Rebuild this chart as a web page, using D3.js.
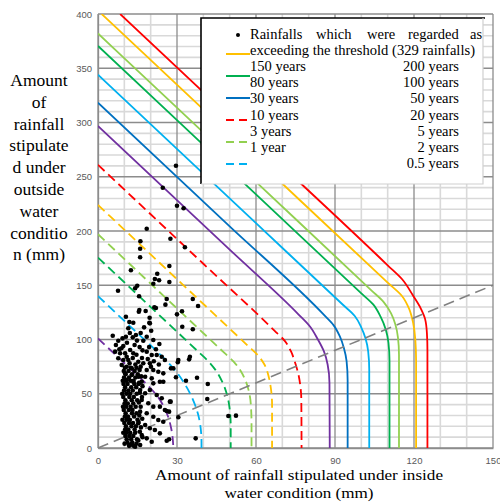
<!DOCTYPE html>
<html>
<head>
<meta charset="utf-8">
<script src="https://cdn.jsdelivr.net/npm/d3@7"></script>
<style>
body { margin: 0; background: #fff; }
</style>
</head>
<body>
<div id="chart"></div>
<script>
// tick values
var xTicks = [0, 30, 60, 90, 120, 150];
var yTicks = [0, 50, 100, 150, 200, 250, 300, 350, 400];

// threshold curves [inside, outside] in mm
var c200 = [[8.4,400],[60,282.4],[110,168.4],[115.5,155.5],[119.5,141],[122.5,129],[124.2,119],[124.9,106],[125.1,90],[125.1,0]];
var c150 = [[1.4,400],[60,266.4],[110,152.4],[115.5,139.9],[118.2,128],[119.7,115],[120.5,100],[120.8,80],[120.8,0]];
var c100 = [[0,382],[60,245.2],[104,144.9],[108.5,134.5],[111.3,124],[112.9,114],[113.9,102],[114.3,86],[114.3,0]];
var c80 = [[0,370.5],[60,233.7],[100,142.5],[104.5,132.3],[107.3,121],[109.3,109],[110.3,97],[110.7,80],[110.7,0]];
var c50 = [[0,344],[60,207.2],[93,132],[97.5,121.7],[100,111],[101.6,101],[102.6,89],[103,72],[103,0]];
var c30 = [[0,318.3],[50,204.3],[86,122.2],[89.5,113],[91.8,103],[93.4,92],[94.4,80],[94.8,62],[94.8,0]];
var c20 = [[0,296.8],[50,182.8],[76,123.5],[80.5,112],[83.5,100],[85.8,89],[87.2,77],[87.9,60],[88,0]];
var c10 = [[0,261],[40,169.8],[67,108.2],[71,98.5],[73.3,89],[74.8,79],[75.9,70],[76.8,58],[77.2,45],[77.3,0]];
var c5 = [[0,224],[30,155.6],[57,94],[60.5,86],[63.2,77],[64.8,66],[65.7,54],[66.1,40],[66.1,0]];
var c3 = [[0,197],[25,140],[48,87.6],[51.5,79.6],[54.2,71],[56.2,61],[57.5,50],[58.1,38],[58.3,22],[58.3,0]];
var c2 = [[0,175.5],[20,129.9],[38,88.9],[41.5,80.9],[44.6,72],[47.2,61],[49,49],[50,36],[50.4,20],[50.4,0]];
var c1 = [[0,140],[12,112.6],[23,87.6],[26.5,79.2],[30,69.5],[33.2,58],[35.8,46],[37.9,32],[39,18],[39.3,5],[39.3,0]];
var c05 = [[0,101],[8,82.8],[16,64.6],[19.5,56.2],[22.5,48],[24.8,39],[26.6,29],[27.8,18],[28.4,8],[28.6,0]];

var curveData = [c200, c150, c100, c80, c50, c30, c20, c10, c5, c3, c2, c1, c05];
var curveColors = ["#ff0000", "#ffc000", "#92d050", "#00b050", "#00b0f0", "#0070c0", "#7030a0",
                   "#ff0000", "#ffc000", "#92d050", "#00b050", "#00b0f0", "#7030a0"];
var curveDashed = [false, false, false, false, false, false, false, true, true, true, true, true, true];

// rainfalls regarded as exceeding the threshold
var rainfalls = [
  [29.6,260.2],[24.6,239.9],[30,223.3],[32.5,220.9],[18.5,202.1],[27.5,192.9],[33,185],[16.1,190.5],
  [16,183.7],[16,175.8],[27.1,167.7],[12.5,163.8],[22.5,160.6],[21.6,155.8],[23.2,154.6],[21,151.4],
  [27.1,153],[14.9,149.6],[14.1,147.2],[7.6,145],[15.6,139.8],[26.1,137.3],[25.6,132.1],[36,137.3],
  [38,130.9],[21.4,129.7],[22,129],[15.7,127.2],[15.5,125.6],[18.1,126.3],[31.9,126],[30,123.2],
  [19.6,120.1],[10.6,121],[11.9,116.1],[13.4,115.5],[19.5,115.5],
  [32,111.8],[36,109.4],[34.9,84.1],[34.6,81.7],[30.5,81.1],[30.3,79],[27.7,73.4],[28.6,73.4],
  [29.6,65.2],[33.4,62],[37.6,64.8],[41.7,59],[41.5,45.2],[27.6,42.7],[26.1,34.1],[27,33.5],
  [30.5,28.3],[49.5,29.5],[52.4,29.8],[37.1,8.9],[27,8],[26.1,6.7],
  [19.7,114.9],[11.5,110.3],[17.5,111.2],[5.6,103.5],[14.4,104.1],[13.2,102],[7.7,98.9],[10.6,102.6],
  [18.5,102.6],[17.2,98.9],[21,99.5],[23.3,95.9],[9.6,94],[12.2,90.3],[6.5,88.8],[8.4,87.3],
  [10.3,87.3],[13.4,87.3],[18.5,88.8],[20.4,85.7],[22.3,85.7],[24.2,84.1],[25.4,81.1],[7.7,82.7],
  [9.6,81.1],[11.5,81.1],[15.3,79.5],[17.2,78.1],[19.7,78.1],[9,76.5],[10.9,74.9],[12.8,73.4],
  [18.5,71.9],[21,71.9],[22.9,70.3],[24.8,68.8],[10.3,68.8],[12.8,67.3],[15.3,65.7],[17.9,65.7],
  [20.4,64.2],[10.9,62.7],[13.4,61.1],[24.8,61.1],
  [16.6,61.1],[21,59.6],[23.5,61.1],[16,53.5],[17.9,50.4],[19.7,53.5],[22.3,48.8],[24.2,45.8],
  [27.3,42.7],[16.6,44.2],[19.1,41.2],[21,38.1],[23.5,38.1],[25.4,35],[16,33.5],[18.5,32],
  [21,28.8],[22.9,25.8],[24.8,24.2],[15.3,22.8],[17.9,21.2],[19.7,18.2],[21.6,16.6],[23.5,13.5],
  [16.6,12],[18.5,8.9],[20.4,5.8],[16,2.8],[14.1,1.2],[12.2,2.8],
  [10.2,74],[12.5,74],[14.6,74],[9.8,71],[11.6,71],[13.9,71],[10.5,68],[12.9,68],[15.1,68],
  [9.9,65],[11.8,65],[14.2,65],[10.6,62],[12.3,62],[13.5,62],[9.7,59],[11.2,59],[13.8,59],[15.4,59],
  [10.3,56],[12.6,56],[14.5,56],[9.9,53],[11.5,53],[13.2,53],[10.8,50],[12.2,50],[14.7,50],
  [9.6,47],[11.9,47],[13.6,47],[10.4,44],[12.8,44],[14.9,44],[10.1,41],[11.3,41],[13.4,41],
  [10.7,38],[12.4,38],[14.3,38],[9.8,35],[11.7,35],[13.1,35],[10.5,32],[12.9,32],[14.6,32],
  [10.2,29],[11.4,29],[13.7,29],[10.9,26],[12.1,26],[15,26],[10,23],[11.8,23],[13.3,23],
  [10.6,20],[12.7,20],[14.4,20],[10.3,17],[11.5,17],[13.9,17],[10.8,14],[12.2,14],[14.1,14],
  [10.4,11],[11.9,11],[13.4,11],[10.9,8],[12.6,8],[14.8,8],[11.2,5],[13,5],[11.8,2],[13.6,2],
  [15.8,72],[16.4,66],[15.6,60],[16.9,57],[15.9,51],[16.7,47],[15.5,42],[16.2,38],[15.7,30],
  [16.8,27],[15.4,24],[16.3,19],[15.9,15],[16.9,10],[15.3,7],[14.6,4],
  [6.8,95],[8.9,92],[11,97],[13.9,95],[15.8,93],[16.9,90],[19.4,93],[22,91],[14.8,99],[12.1,106],
  [9.3,101],[16.2,106],[20.2,108],[8.1,91],[10.9,84],[13.2,83],[14.6,86],[16.7,83],[18.9,82],
  [21.2,80],[23.1,77],[12,78],[14.2,77],[16.2,75],[20.1,75],
  [9.4,62],[9.2,50],[9.5,38],[9.3,26],[9.6,14],[10.1,4]
];

// legend and titles
var legendFirstRow = ["Rainfalls", "which", "were", "regarded", "as"];
var legendSecondRow = "exceeding the threshold (329 rainfalls)";
var legendLeft = ["150 years", "80 years", "30 years", "10 years", "3 years", "1 year"];
var legendRight = ["200 years", "100 years", "50 years", "20 years", "5 years", "2 years", "0.5 years"];
var swatchColors = ["#ffc000", "#00b050", "#0070c0", "#ff0000", "#92d050", "#00b0f0"];
var swatchDashed = [false, false, false, true, true, true];
var yTitle = ["Amount", "of", "rainfall", "stipulate", "d under", "outside", "water", "conditio", "n (mm)"];
var xTitle = ["Amount of rainfall stipulated under inside", "water condition (mm)"];
var xTitleWidth = [288, 149];

var width = 500, height = 502;
var plot = { left: 98, right: 493, top: 14, bottom: 448 };

var svg = d3.select("#chart")
    .append("svg")
    .attr("width", width)
    .attr("height", height);

var x = d3.scaleLinear().domain([0, 150]).range([plot.left, plot.right]);
var y = d3.scaleLinear().domain([0, 400]).range([plot.bottom, plot.top]);

svg.append("clipPath").attr("id", "clip")
    .append("rect")
    .attr("x", plot.left).attr("y", plot.top)
    .attr("width", plot.right - plot.left).attr("height", plot.bottom - plot.top);

// minor grid every 10 mm
var grid = svg.append("g");
grid.selectAll("line.vminor")
    .data(d3.range(10, 151, 10).filter(d => d % 30 != 0))
    .enter().append("line")
    .attr("x1", d => x(d)).attr("x2", d => x(d))
    .attr("y1", plot.top).attr("y2", plot.bottom)
    .style("stroke", "#d9d9d9").style("stroke-width", 1.6);
grid.selectAll("line.hminor")
    .data(d3.range(10, 401, 10).filter(d => d % 50 != 0))
    .enter().append("line")
    .attr("y1", d => y(d)).attr("y2", d => y(d))
    .attr("x1", plot.left).attr("x2", plot.right)
    .style("stroke", "#d9d9d9").style("stroke-width", 1.6);

// major grid
grid.selectAll("line.vmajor")
    .data(xTicks)
    .enter().append("line")
    .attr("x1", d => x(d)).attr("x2", d => x(d))
    .attr("y1", plot.top).attr("y2", plot.bottom)
    .style("stroke", "#8c8c8c").style("stroke-width", 1.3);
grid.selectAll("line.hmajor")
    .data(yTicks)
    .enter().append("line")
    .attr("y1", d => y(d)).attr("y2", d => y(d))
    .attr("x1", plot.left).attr("x2", plot.right)
    .style("stroke", "#8c8c8c").style("stroke-width", 1.3);

// axes (labels only)
svg.append("g")
    .attr("transform", "translate(0," + plot.bottom + ")")
    .call(d3.axisBottom(x).tickValues(xTicks).tickSize(0).tickPadding(9));
svg.append("g")
    .attr("transform", "translate(" + plot.left + ",0)")
    .call(d3.axisLeft(y).tickValues(yTicks).tickSize(0).tickPadding(6));
svg.selectAll(".domain").style("stroke", "#8c8c8c").style("stroke-width", 1.3);
svg.selectAll(".tick text")
    .style("font-family", "Liberation Sans, Arial, sans-serif")
    .style("font-size", "9.5px")
    .style("fill", "#595959");

// threshold curves
var line = d3.line()
    .x(d => x(d[0]))
    .y(d => y(d[1]))
    .curve(d3.curveMonotoneY);

svg.append("g")
    .attr("clip-path", "url(#clip)")
    .selectAll("path")
    .data(curveData)
    .enter().append("path")
    .attr("d", line)
    .style("fill", "none")
    .style("stroke", (d, i) => curveColors[i])
    .style("stroke-width", 1.8)
    .style("stroke-dasharray", (d, i) => curveDashed[i] ? "9,5" : null);

// 1:1 line
svg.append("line")
    .attr("x1", x(0)).attr("y1", y(0))
    .attr("x2", x(150)).attr("y2", y(150))
    .style("stroke", "#808080")
    .style("stroke-width", 1.6)
    .style("stroke-dasharray", "11,6");

// rainfall dots
svg.append("g")
    .selectAll("circle")
    .data(rainfalls)
    .enter().append("circle")
    .attr("cx", d => x(d[0]))
    .attr("cy", d => y(d[1]))
    .attr("r", 2.3)
    .style("fill", "#000");

// legend box
var lg = svg.append("g");
lg.append("rect")
    .attr("x", 201).attr("y", 18).attr("width", 282).attr("height", 166)
    .style("fill", "#fff");
lg.append("path")
    .attr("d", "M201,184V18H485")
    .style("fill", "none").style("stroke", "#000").style("stroke-width", 1.6);
lg.append("path")
    .attr("d", "M483,18V184H201")
    .style("fill", "none").style("stroke", "#d0d0d0").style("stroke-width", 1.2);

var serif = "Liberation Serif, Times New Roman, serif";
var firstRowX = [250, 316, 367, 408, 470];
lg.append("circle").attr("cx", 238).attr("cy", 35).attr("r", 2).style("fill", "#000");
lg.selectAll("text.first")
    .data(legendFirstRow)
    .enter().append("text")
    .attr("x", (d, i) => firstRowX[i]).attr("y", 39)
    .style("font-family", serif).style("font-size", "14.5px")
    .text(d => d);
lg.append("text")
    .attr("x", 250).attr("y", 55)
    .attr("textLength", 225).attr("lengthAdjust", "spacingAndGlyphs")
    .style("font-family", serif).style("font-size", "14.5px")
    .text(legendSecondRow);

lg.selectAll("text.left")
    .data(legendLeft)
    .enter().append("text")
    .attr("x", 250)
    .attr("y", (d, i) => 71 + i * 16.2)
    .style("font-family", serif).style("font-size", "14.5px")
    .text(d => d);
lg.selectAll("text.right")
    .data(legendRight)
    .enter().append("text")
    .attr("x", 459)
    .attr("y", (d, i) => 71 + i * 16.2)
    .attr("text-anchor", "end")
    .style("font-family", serif).style("font-size", "14.5px")
    .text(d => d);

lg.selectAll("line.swatch")
    .data(swatchColors)
    .enter().append("line")
    .attr("x1", 226).attr("x2", 250)
    .attr("y1", (d, i) => 54 + i * 22)
    .attr("y2", (d, i) => 54 + i * 22)
    .style("stroke", d => d)
    .style("stroke-width", 2)
    .style("stroke-dasharray", (d, i) => swatchDashed[i] ? "8,5" : null);

// axis titles
svg.selectAll("text.ytitle")
    .data(yTitle)
    .enter().append("text")
    .attr("x", 39)
    .attr("y", (d, i) => 86 + i * 21.8)
    .attr("text-anchor", "middle")
    .style("font-family", serif).style("font-size", "17.5px")
    .text(d => d);

svg.selectAll("text.xtitle")
    .data(xTitle)
    .enter().append("text")
    .attr("x", (d, i) => 299 - xTitleWidth[i] / 2)
    .attr("y", (d, i) => 479.5 + i * 18)
    .attr("textLength", (d, i) => xTitleWidth[i])
    .attr("lengthAdjust", "spacingAndGlyphs")
    .style("font-family", serif).style("font-size", "15.5px")
    .text(d => d);
</script>
</body>
</html>
